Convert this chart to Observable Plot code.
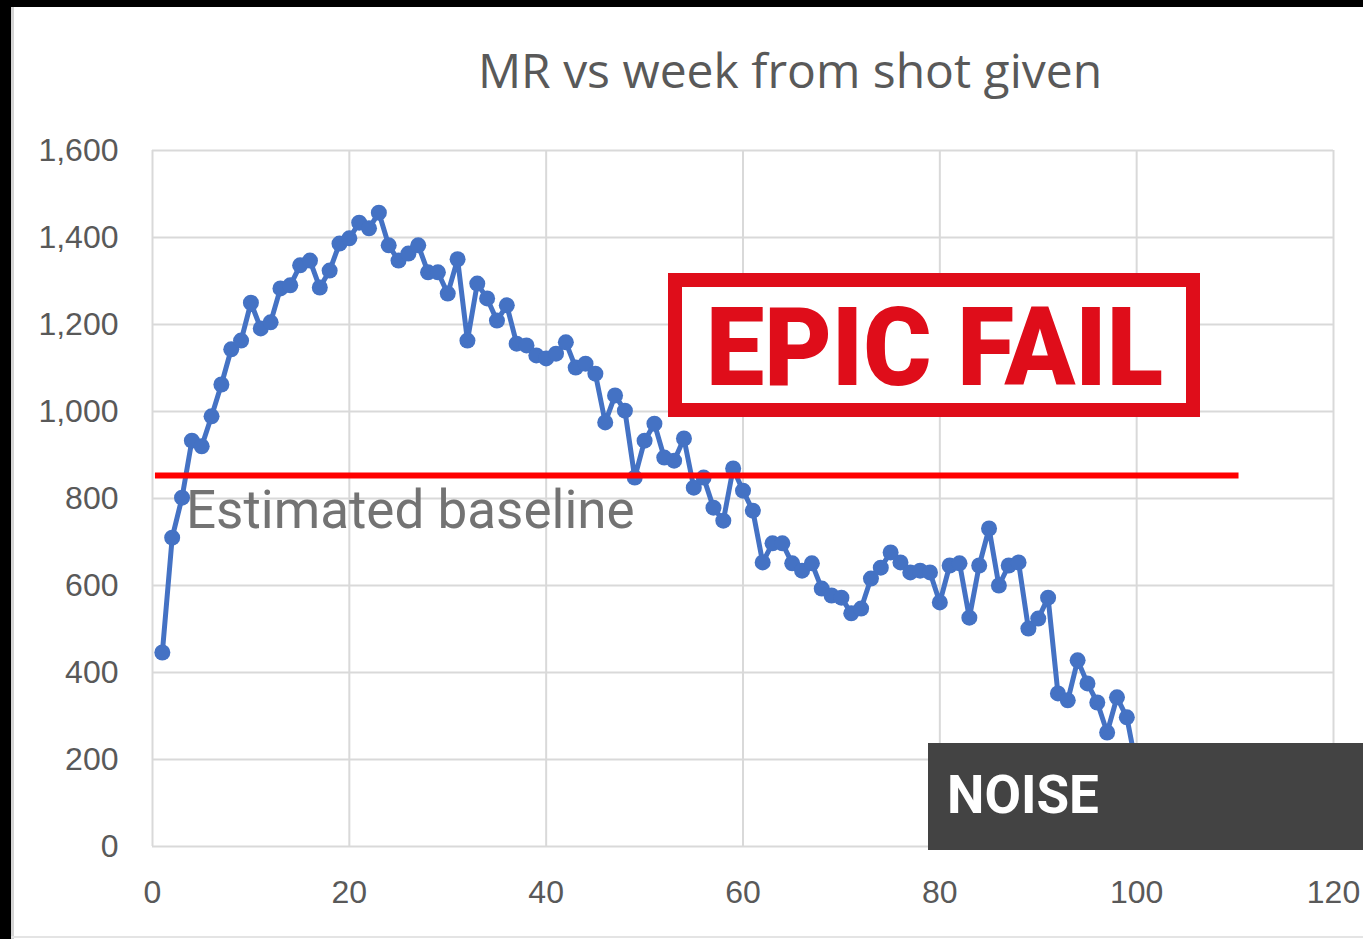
<!DOCTYPE html>
<html>
<head>
<meta charset="utf-8">
<script src="https://cdn.jsdelivr.net/npm/d3@7"></script>
<script src="https://cdn.jsdelivr.net/npm/@observablehq/plot@0.6"></script>
<style>
  html, body { margin: 0; padding: 0; background: #ffffff; }
  #wrap { position: relative; width: 1363px; height: 939px; overflow: hidden; background: #fff; }
  #chart { position: absolute; left: 0; top: 0; }
  #overlay { position: absolute; left: 0; top: 0; pointer-events: none; }
  .blk { position: absolute; background: #000; }
</style>
</head>
<body>
<div id="wrap">
  <div id="chart"></div>
  <svg id="overlay" width="1363" height="939" xmlns="http://www.w3.org/2000/svg">
    <text x="790" y="88" text-anchor="middle" font-family="'Open Sans', sans-serif" font-size="48" fill="#595959">MR vs week from shot given</text>
    <g>
      <rect x="675" y="280" width="518" height="130" fill="#ffffff" stroke="#df0d1a" stroke-width="14"></rect>
      <text x="706" y="385" font-family="Roboto, sans-serif" font-weight="900" font-size="110" fill="#df0d1a" textLength="457" lengthAdjust="spacingAndGlyphs">EPIC FAIL</text>
    </g>
    <g>
      <rect x="928" y="743" width="435" height="107" fill="#434343"></rect>
      <text x="947" y="813" font-family="Roboto, sans-serif" font-weight="700" font-size="53" fill="#ffffff">NOISE</text>
    </g>
  </svg>
  <div class="blk" style="left:0;top:0;width:1363px;height:7px;"></div>
  <div class="blk" style="left:0;top:0;width:11px;height:939px;"></div>
  <div style="position:absolute;left:11px;top:7px;width:3px;height:932px;background:#d4d4d4;"></div>
  <div style="position:absolute;left:11px;top:936px;width:1352px;height:2px;background:#e4e4e4;"></div>
</div>
<script>
// ---- data ----
const weeks = [
  1,2,3,4,5,6,7,8,9,10,11,12,13,14,15,16,17,18,19,20,
  21,22,23,24,25,26,27,28,29,30,31,32,33,34,35,36,37,38,39,40,
  41,42,43,44,45,46,47,48,49,50,51,52,53,54,55,56,57,58,59,60,
  61,62,63,64,65,66,67,68,69,70,71,72,73,74,75,76,77,78,79,80,
  81,82,83,84,85,86,87,88,89,90,91,92,93,94,95,96,97,98,99,100
];
const mr = [
  446,710,802,933,920,989,1062,1143,1163,1250,1191,1205,1283,1290,1336,1347,1285,1324,1386,1398,
  1434,1421,1457,1382,1347,1363,1382,1320,1320,1271,1350,1163,1294,1260,1209,1244,1156,1152,1129,1122,
  1133,1159,1101,1110,1087,975,1037,1002,848,933,972,894,887,938,825,848,779,749,869,818,
  772,653,697,697,651,634,651,593,577,572,536,547,616,641,676,653,630,634,630,561,
  646,651,526,646,731,600,646,653,501,524,572,352,336,428,375,331,262,343,297,180
];
const xTicks = [0,20,40,60,80,100,120];
const yTicks = [0,200,400,600,800,1000,1200,1400,1600];
const baselineValue = [853];
const baselineStart = 0.3;
const baselineEnd = 110.4;
const baselineLabel = ["Estimated baseline"];
const baselineLabelX = 3.4;
const baselineLabelY = 733;

const rows = weeks.map((w, i) => ({week: w, mr: mr[i]}));
const blue = "#4472c4";
const grid = "#d9d9d9";

const chart = Plot.plot({
  width: 1363,
  height: 939,
  marginLeft: 152,
  marginRight: 30,
  marginTop: 150,
  marginBottom: 93,
  style: {fontFamily: "'Liberation Sans', Arial, sans-serif", color: "#595959", background: "transparent"},
  x: {domain: [0, 120]},
  y: {domain: [0, 1600]},
  marks: [
    Plot.gridX(xTicks, {stroke: grid, strokeOpacity: 1, strokeWidth: 2}),
    Plot.gridY(yTicks, {stroke: grid, strokeOpacity: 1, strokeWidth: 2}),
    Plot.axisX(xTicks, {tickSize: 0, tickPadding: 34, fontSize: 32, label: null, tickFormat: d => String(d)}),
    Plot.axisY(yTicks, {tickSize: 0, tickPadding: 34, fontSize: 32, label: null, tickFormat: d3.format(",")}),
    Plot.line(rows, {x: "week", y: "mr", stroke: blue, strokeWidth: 5}),
    Plot.dot(rows, {x: "week", y: "mr", r: 8, fill: blue, stroke: "none"}),
    Plot.ruleY(baselineValue, {x1: baselineStart, x2: baselineEnd, stroke: "#ff0000", strokeWidth: 6}),
    Plot.text(baselineLabel, {x: baselineLabelX, y: baselineLabelY, text: d => d, textAnchor: "start", lineAnchor: "bottom", fontSize: 53, fill: "#737373", fontFamily: "Roboto, sans-serif"})
  ]
});
document.getElementById("chart").appendChild(chart);
</script>
</body>
</html>
